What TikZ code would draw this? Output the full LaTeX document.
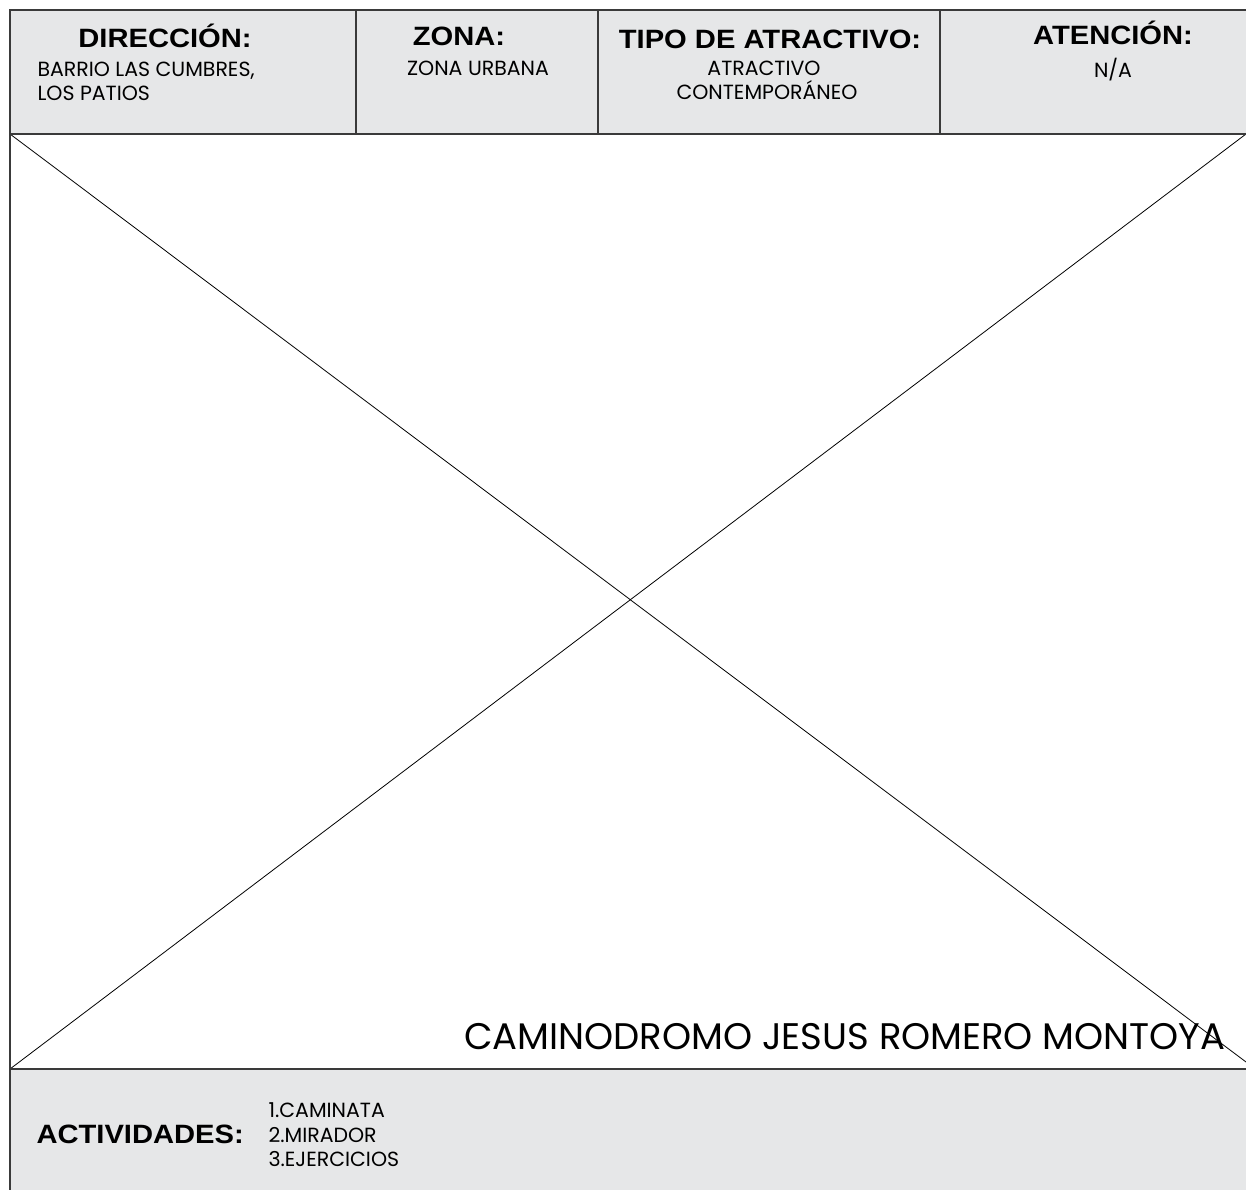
\documentclass[tikz,border=0pt]{standalone}
\usepackage{fontspec}
\setmainfont{Liberation Sans}
\newfontfamily\encabezado{Liberation Sans}[FakeStretch=1.1]
\newfontfamily\gothic{Poppins}
\definecolor{fichagris}{HTML}{E6E7E8}
\definecolor{borde}{HTML}{3A3A3A}

\begin{document}
\begin{tikzpicture}[x=1pt,y=-1pt,
    titulo/.style={font=\encabezado\bfseries\fontsize{26.5}{26.5}\selectfont,anchor=base},
    dato/.style={font=\gothic\fontsize{20.5}{24}\selectfont,anchor=base},
    marco/.style={draw=borde,line width=1.4pt}]
    \useasboundingbox (0,0) rectangle (1246,1190);
    \fill[fichagris] (10,10) rectangle (1246,134);
    \fill[fichagris] (10,1069) rectangle (1246,1190);

    \coordinate (fotoNO) at (10,134);
    \coordinate (fotoNE) at (1246,134);
    \coordinate (fotoSO) at (10,1069);
    \coordinate (fotoSE) at (1246,1062);
    \draw[black,line width=0.8pt] (fotoNO) -- (fotoSE);
    \draw[black,line width=0.8pt] (fotoSO) -- (fotoNE);

    \draw[marco] (1246,10) -- (10,10) -- (10,1190);
    \draw[marco] (10,134) -- (1246,134);
    \draw[marco] (10,1069) -- (1246,1069);
    \draw[marco] (356,10) -- (356,134);
    \draw[marco] (598,10) -- (598,134);
    \draw[marco] (940,10) -- (940,134);

    \node[titulo] (direccion) at (165,48) {DIRECCIÓN:};
    \node[dato,anchor=base west] (barrio) at (34,77) {BARRIO LAS CUMBRES,};
    \node[dato,anchor=base west] (patios) at (34,101) {LOS PATIOS};

    \node[titulo] (zona) at (459,46) {ZONA:};
    \node[dato] (urbana) at (478,76) {ZONA URBANA};

    \node[titulo] (tipo) at (770,49) {TIPO DE ATRACTIVO:};
    \node[dato] (atractivo) at (764,76) {ATRACTIVO};
    \node[dato] (contemp) at (767,100) {CONTEMPORÁNEO};

    \node[titulo] (atencion) at (1113,45) {ATENCIÓN:};
    \node[dato] (na) at (1113,78) {N/A};

    \node[font=\gothic\fontsize{37}{37}\selectfont,anchor=base east] (nombre) at (1229,1049) {CAMINODROMO JESUS ROMERO MONTOYA};

    \node[titulo,anchor=base west] (actividades) at (33,1143) {ACTIVIDADES:};
    \node[dato,anchor=base west] (caminata) at (265,1117) {1.CAMINATA};
    \node[dato,anchor=base west] (mirador) at (265,1142) {2.MIRADOR};
    \node[dato,anchor=base west] (ejercicios) at (265,1166) {3.EJERCICIOS};
\end{tikzpicture}
\end{document}
